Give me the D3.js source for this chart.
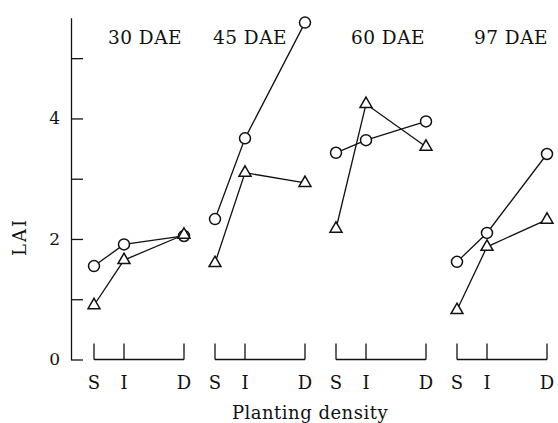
<!DOCTYPE html>
<html>
<head>
<meta charset="utf-8">
<script src="https://cdn.jsdelivr.net/npm/d3@7"></script>
<style>
  body { margin: 0; background: #fff; }
</style>
</head>
<body>
<div class="chart"></div>
<script>
// data
const stages = ["30 DAE", "45 DAE", "60 DAE", "97 DAE"];
const densities = ["S", "I", "D"];
const densityPos = [0, 1, 3];
const circleLAI = [
  [1.55, 1.91, 2.05],
  [2.33, 3.67, 5.59],
  [3.43, 3.64, 3.95],
  [1.62, 2.10, 3.41]
];
const triangleLAI = [
  [0.90, 1.65, 2.07],
  [1.60, 3.10, 2.93],
  [2.17, 4.24, 3.53],
  [0.82, 1.87, 2.32]
];
const yTicks = [0, 1, 2, 3, 4, 5];

// layout
const size = { width: 558, height: 423 };
const titleOffset = [51, 35, 52, 54];
const serif = "'DejaVu Serif', serif";

const svg = d3.select(".chart")
  .append("svg")
  .attr("width", size.width)
  .attr("height", size.height)
  .style("font-family", serif);

// scales
const y = d3.scaleLinear().domain([0, 5.67]).range([359.5, 17.8]);
const groupX = d3.scaleLinear().domain([0, 3]).range([94, 457]);
const posX = d3.scaleLinear().domain([0, 3]).range([0, 90]);
const px = (g, i) => groupX(g) + posX(densityPos[i]);

// y axis
const yAxis = svg.append("g")
  .attr("transform", "translate(71,0)")
  .call(d3.axisLeft(y)
    .tickValues(yTicks)
    .tickSizeInner(-12)
    .tickSizeOuter(0)
    .tickPadding(11)
    .tickFormat(d => d % 2 === 0 ? d : ""));
yAxis.attr("font-family", null);
yAxis.selectAll("path, line").attr("stroke", "#111").attr("stroke-width", 1.3);
yAxis.selectAll("text")
  .style("font-family", serif)
  .attr("font-size", 17)
  .attr("fill", "#111");

svg.append("text")
  .attr("transform", "translate(26,237) rotate(-90)")
  .attr("text-anchor", "middle")
  .style("font-family", serif)
  .attr("font-size", 18)
  .attr("letter-spacing", 2)
  .attr("fill", "#111")
  .text("LAI");

// groups
stages.forEach((stage, g) => {
  const grp = svg.append("g");

  // bracket axis
  grp.append("line")
    .attr("x1", px(g, 0)).attr("x2", px(g, 2))
    .attr("y1", y(0)).attr("y2", y(0))
    .attr("stroke", "#111").attr("stroke-width", 1.3);
  grp.selectAll(".tk")
    .data(densities)
    .enter()
    .append("line")
    .attr("x1", (d, i) => px(g, i))
    .attr("x2", (d, i) => px(g, i))
    .attr("y1", y(0) - 16)
    .attr("y2", y(0))
    .attr("stroke", "#111").attr("stroke-width", 1.3);
  grp.selectAll(".lab")
    .data(densities)
    .enter()
    .append("text")
    .attr("x", (d, i) => px(g, i))
    .attr("y", 389)
    .attr("text-anchor", "middle")
    .style("font-family", serif)
    .attr("font-size", 18)
    .attr("fill", "#111")
    .text(d => d);

  // title
  grp.append("text")
    .attr("x", groupX(g) + titleOffset[g])
    .attr("y", 44)
    .attr("text-anchor", "middle")
    .style("font-family", serif)
    .attr("font-size", 18.5)
    .attr("letter-spacing", 0.5)
    .attr("fill", "#111")
    .text(stage);

  const line = d3.line()
    .x((d, i) => px(g, i))
    .y(d => y(d));

  grp.append("path")
    .attr("d", line(circleLAI[g]))
    .attr("fill", "none").attr("stroke", "#111").attr("stroke-width", 1.3);
  grp.append("path")
    .attr("d", line(triangleLAI[g]))
    .attr("fill", "none").attr("stroke", "#111").attr("stroke-width", 1.3);

  grp.selectAll(".c")
    .data(circleLAI[g])
    .enter()
    .append("circle")
    .attr("cx", (d, i) => px(g, i))
    .attr("cy", d => y(d))
    .attr("r", 5.5)
    .attr("fill", "#fff")
    .attr("stroke", "#111").attr("stroke-width", 1.5);

  grp.selectAll(".t")
    .data(triangleLAI[g])
    .enter()
    .append("path")
    .attr("d", d3.symbol(d3.symbolTriangle, 62))
    .attr("transform", (d, i) => `translate(${px(g, i)},${y(d)})`)
    .attr("fill", "#fff")
    .attr("stroke", "#111").attr("stroke-width", 1.5);
});

svg.append("text")
  .attr("x", 310)
  .attr("y", 419)
  .attr("text-anchor", "middle")
  .style("font-family", serif)
  .attr("font-size", 18)
  .attr("letter-spacing", 0.5)
  .attr("fill", "#111")
  .text("Planting density");
</script>
</body>
</html>
